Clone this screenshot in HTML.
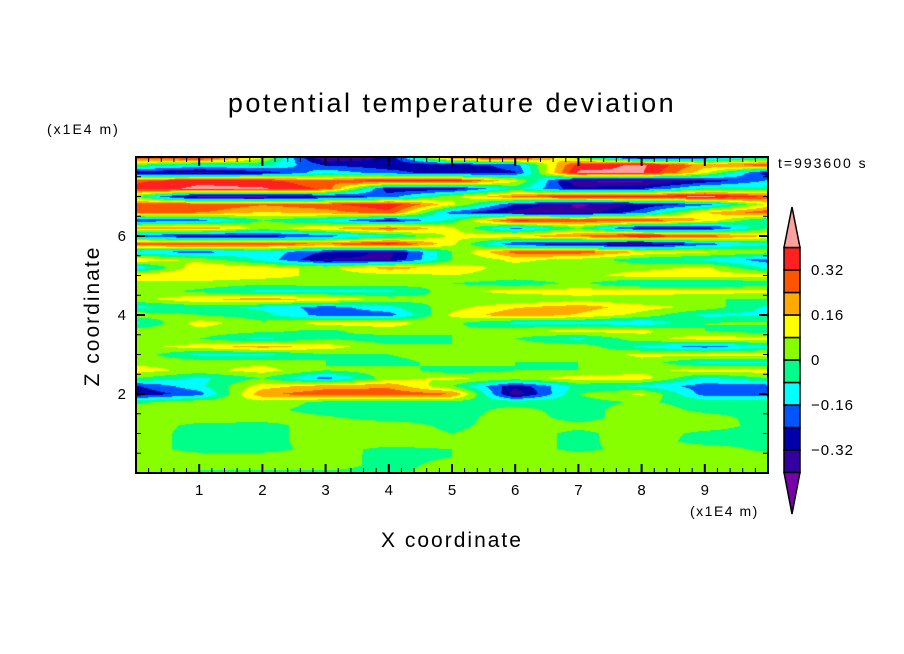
<!DOCTYPE html>
<html><head><meta charset="utf-8"><style>
html,body{margin:0;padding:0;background:#fff;}
#wrap{position:relative;width:904px;height:654px;overflow:hidden;font-family:"Liberation Sans","DejaVu Sans",sans-serif;}
canvas{position:absolute;left:136px;top:157px;}
svg{position:absolute;left:0;top:0;}
text{font-family:"Liberation Sans","DejaVu Sans",sans-serif;fill:#000;}
</style></head><body>
<div id="wrap">
<canvas id="cv" width="632" height="316"></canvas>
<svg id="sv" width="904" height="654"></svg>
</div>
<script>
// x grid nodes (x1E4 m) and z grid nodes (x1E4 m, top to bottom)
const xNodes=[0,1,2,3,4,5,6,7,8,9,10];
const zNodes=[8.0,7.8,7.6,7.4,7.2,7.0,6.8,6.6,6.4,6.2,6.0,5.8,5.6,5.4,5.2,5.0,4.8,4.6,4.4,4.2,4.0,3.8,3.6,3.4,3.2,3.0,2.8,2.6,2.4,2.2,2.0,1.8,1.6,1.4,1.2,1.0,0.8,0.6,0.4,0.2,0.0];
const field=[
[0.3,0.42,0.1,-0.42,-0.3,0.3,0.42,0,-0.42,-0.25,-0.1],
[0.0,-0.1,-0.05,-0.25,-0.3,-0.3,-0.2,0.35,0.42,0.2,0.3],
[-0.3,-0.35,-0.3,-0.1,-0.2,-0.3,-0.25,0.42,0.41,0.1,-0.3],
[0.3,0.38,0.35,0.25,0.38,0.38,0.1,-0.41,-0.42,-0.3,-0.15],
[0.35,0.42,0.41,0.3,-0.3,-0.3,-0.05,-0.3,-0.25,-0.05,-0.05],
[0.0,-0.42,-0.41,-0.3,-0.2,0.05,0.25,0.38,0.35,0.42,0.3],
[0.3,0.32,0.25,0.3,0.38,0.1,-0.25,-0.42,-0.3,-0.2,0.1],
[0.28,0.25,0.15,0.2,0.3,-0.2,-0.35,-0.38,-0.2,0.15,0.3],
[-0.25,-0.2,0.0,-0.1,-0.3,-0.05,0.35,0.3,0.32,0.15,-0.1],
[0.2,0.25,0.05,0.15,0.28,0.1,-0.2,0.0,-0.32,-0.3,0.0],
[-0.2,-0.32,-0.3,-0.2,-0.1,0.1,0.15,0.25,0.4,0.3,0.15],
[0.3,0.35,0.3,0.25,0.38,0.1,-0.25,-0.32,-0.41,-0.2,-0.1],
[-0.15,-0.2,-0.1,-0.25,-0.35,0.0,0.28,0.3,0.15,0.1,0.05],
[0.15,0.05,-0.1,-0.33,-0.33,0.0,0.1,0.05,-0.05,-0.1,-0.2],
[-0.15,0.15,0.12,0.05,0.2,0.12,0.05,0.05,0.05,0.1,-0.1],
[0.15,0.15,0.12,0.05,0.05,0.08,0.05,0.05,0.12,0.12,0.12],
[0.05,0.05,0.02,0.05,0.05,0.0,-0.05,0.02,-0.1,-0.1,-0.05],
[0.05,-0.02,-0.1,-0.1,-0.1,0.05,0.12,0.12,0.15,0.12,0.1],
[0.05,0.15,0.2,0.15,0.05,0.0,0.0,0.05,0.0,0.0,0.0],
[-0.1,-0.05,-0.1,-0.2,-0.1,0.05,0.15,0.2,0.12,0.05,-0.1],
[0.05,0.0,-0.05,-0.2,-0.2,0.1,0.22,0.15,0.05,-0.1,-0.1],
[-0.1,0.12,0.02,0.12,0.12,0.02,-0.1,-0.1,-0.15,0.0,0.02],
[0.05,0.05,0.02,-0.02,0.05,0.0,0.05,0.12,0.1,0.0,-0.05],
[0.0,0.0,-0.1,0.0,-0.05,0.0,0.0,-0.1,0.05,0.12,0.12],
[0.05,0.12,0.2,0.12,0.02,0.0,0.05,0.05,-0.1,-0.2,-0.1],
[0.05,-0.1,-0.1,0.0,0.0,0.08,0.05,0.02,0.1,0.12,0.12],
[0.05,0.05,0.05,0.0,-0.05,0.05,0.0,0.0,0.05,-0.1,-0.1],
[0.12,0.05,0.12,0.0,0.05,-0.05,0.0,0.0,0.05,0.12,0.12],
[0.0,-0.1,0.0,-0.2,0.05,0.1,0.05,0.12,0.12,-0.1,0.0],
[-0.25,-0.1,0.12,0.2,0.22,0.0,-0.3,-0.05,-0.1,-0.2,-0.2],
[-0.3,-0.2,0.22,0.3,0.3,0.25,-0.38,0.0,0.1,-0.2,-0.2],
[-0.02,0.05,0.05,-0.02,-0.03,-0.03,-0.03,-0.03,0.01,-0.03,-0.03],
[0.04,0.04,0.02,-0.03,-0.03,-0.03,0.02,-0.03,0.04,-0.02,-0.03],
[0.04,0.04,0.04,0.01,-0.03,-0.03,0.04,-0.03,0.04,0.03,-0.03],
[0.04,-0.02,-0.03,0.04,0.04,-0.02,0.04,0.02,0.04,0.04,-0.03],
[0.04,-0.03,-0.03,0.04,0.04,0.0,0.04,-0.02,0.04,-0.02,-0.03],
[0.04,-0.03,-0.03,0.04,0.04,0.04,0.04,-0.02,0.04,-0.03,-0.02],
[0.04,-0.03,-0.03,0.03,-0.02,0.0,0.04,-0.02,0.03,0.04,-0.02],
[0.04,0.04,0.04,0.04,-0.03,0.0,0.04,0.04,0.04,0.04,0.04],
[0.04,0.04,0.04,0.04,-0.03,0.03,0.04,0.04,0.04,0.04,0.04],
[0.04,-0.02,-0.02,-0.02,-0.02,0.04,0.04,0.04,0.04,0.04,0.04]
];
const levels=[-0.4,-0.32,-0.24,-0.16,-0.08,0,0.08,0.16,0.24,0.32,0.4];
const levelColors=["#7700aa","#3300a0","#0000aa","#0055ff","#00ffff","#00ff88","#88ff00","#ffff00","#ffaa00","#ff5500","#ff2020","#ffa0a0"];
const xTickLabels=[1,2,3,4,5,6,7,8,9];
const zTickLabels=[2,4,6];
const cbLabels=["0.32","0.16","0","\u22120.16","\u22120.32"];
const cbLabelValues=[0.32,0.16,0,-0.16,-0.32];

const PX0=136,PX1=768,PY0=157,PY1=473,XMAX=10,ZMAX=8;
const sx=x=>PX0+x/XMAX*(PX1-PX0);
const sz=z=>PY1-z/ZMAX*(PY1-PY0);
function classify(v){let i=0;while(i<levels.length&&v>levels[i])i++;return i;}
function hex(c){return [parseInt(c.slice(1,3),16),parseInt(c.slice(3,5),16),parseInt(c.slice(5,7),16)];}
const rgb=levelColors.map(hex);
function val(x,z){
  let c=Math.min(xNodes.length-2,Math.max(0,Math.floor((x-xNodes[0])/(xNodes[1]-xNodes[0]))));
  let tx=(x-xNodes[c])/(xNodes[c+1]-xNodes[c]);
  let r=0;while(r<zNodes.length-2&&z<zNodes[r+1])r++;
  let tz=(zNodes[r]-z)/(zNodes[r]-zNodes[r+1]);
  tx=Math.max(0,Math.min(1,tx));tz=Math.max(0,Math.min(1,tz));
  const a=field[r][c],b=field[r][c+1],d=field[r+1][c],e=field[r+1][c+1];
  return (a*(1-tx)+b*tx)*(1-tz)+(d*(1-tx)+e*tx)*tz;
}
const cv=document.getElementById('cv');const ctx=cv.getContext('2d');
const W=cv.width,H=cv.height;const img=ctx.createImageData(W,H);
for(let j=0;j<H;j++){const z=ZMAX*(1-(j+0.5)/H);
  for(let i=0;i<W;i++){const x=XMAX*(i+0.5)/W;const col=rgb[classify(val(x,z))];
    const k=(j*W+i)*4;img.data[k]=col[0];img.data[k+1]=col[1];img.data[k+2]=col[2];img.data[k+3]=255;}}
ctx.putImageData(img,0,0);

const NS="http://www.w3.org/2000/svg";const sv=document.getElementById('sv');
function el(tag,attrs,parent){const e=document.createElementNS(NS,tag);for(const k in attrs)e.setAttribute(k,attrs[k]);(parent||sv).appendChild(e);return e;}
function txt(s,x,y,size,anchor,name,extra){const t=el('text',Object.assign({x:x,y:y,'font-size':size,'text-anchor':anchor||'start'},extra||{}));t.textContent=s;


return t;}

const frame=el('rect',{x:PX0,y:PY0,width:PX1-PX0,height:PY1-PY0,fill:'none',stroke:'#000','stroke-width':2});


for(let k=1;k<50;k++){const x=k*0.2;const major=(k%5===0);const L=major?9:5;const X=sx(x);
  const t1=el('line',{x1:X,y1:PY1,x2:X,y2:PY1-L,stroke:'#000','stroke-width':major?2:1});
  
  
  const t2=el('line',{x1:X,y1:PY0,x2:X,y2:PY0+L,stroke:'#000','stroke-width':major?2:1});
  
  }
for(let k=1;k<16;k++){const z=k*0.5;const major=(k%4===0);const L=major?9:5;const Y=sz(z);
  const t1=el('line',{x1:PX0,y1:Y,x2:PX0+L,y2:Y,stroke:'#000','stroke-width':major?2:1});
  
  
  const t2=el('line',{x1:PX1,y1:Y,x2:PX1-L,y2:Y,stroke:'#000','stroke-width':major?2:1});
  
  }
xTickLabels.forEach(v=>txt(String(v),sx(v),495,15,'middle','x-tick-label'));
zTickLabels.forEach(v=>txt(String(v),126,sz(v)+5,15,'end','z-tick-label'));

txt('potential temperature deviation',452,112,27,'middle','chart-title',{'letter-spacing':'2.5'});
txt('(x1E4 m)',47,134,14,'start','z-unit-label',{'letter-spacing':'2'});
txt('t=993600 s',778,168,14,'start','time-label',{'letter-spacing':'2'});
txt('(x1E4 m)',690,516,14,'start','x-unit-label',{'letter-spacing':'1.5'});
txt('X coordinate',452,547,21,'middle','x-axis-title',{'letter-spacing':'2'});
txt('Z coordinate',0,0,21,'middle','z-axis-title',{transform:'translate(99,316) rotate(-90)','letter-spacing':'2'});

const CBX=784,CBW=16,CBT=247.5,CBB=472.5;const nBox=levels.length-1;const bh=(CBB-CBT)/nBox;
const cbv=v=>CBB-(v-levels[0])/(levels[nBox]-levels[0])*(CBB-CBT);
for(let i=0;i<nBox;i++){const r=el('rect',{x:CBX,y:cbv(levels[i+1]),width:CBW,height:bh,fill:levelColors[i+1],stroke:'#000','stroke-width':1.5});
  
  }
const tp=el('polygon',{points:`${CBX},${CBT} ${CBX+CBW},${CBT} ${CBX+CBW/2},207`,fill:levelColors[levelColors.length-1],stroke:'#000','stroke-width':1.5});


const bt=el('polygon',{points:`${CBX},${CBB} ${CBX+CBW},${CBB} ${CBX+CBW/2},514`,fill:levelColors[0],stroke:'#000','stroke-width':1.5});


cbLabels.forEach((s,i)=>txt(s,811,cbv(cbLabelValues[i])+5,15,'start','colorbar-label',{'letter-spacing':'1'}));
</script>
</body></html>
